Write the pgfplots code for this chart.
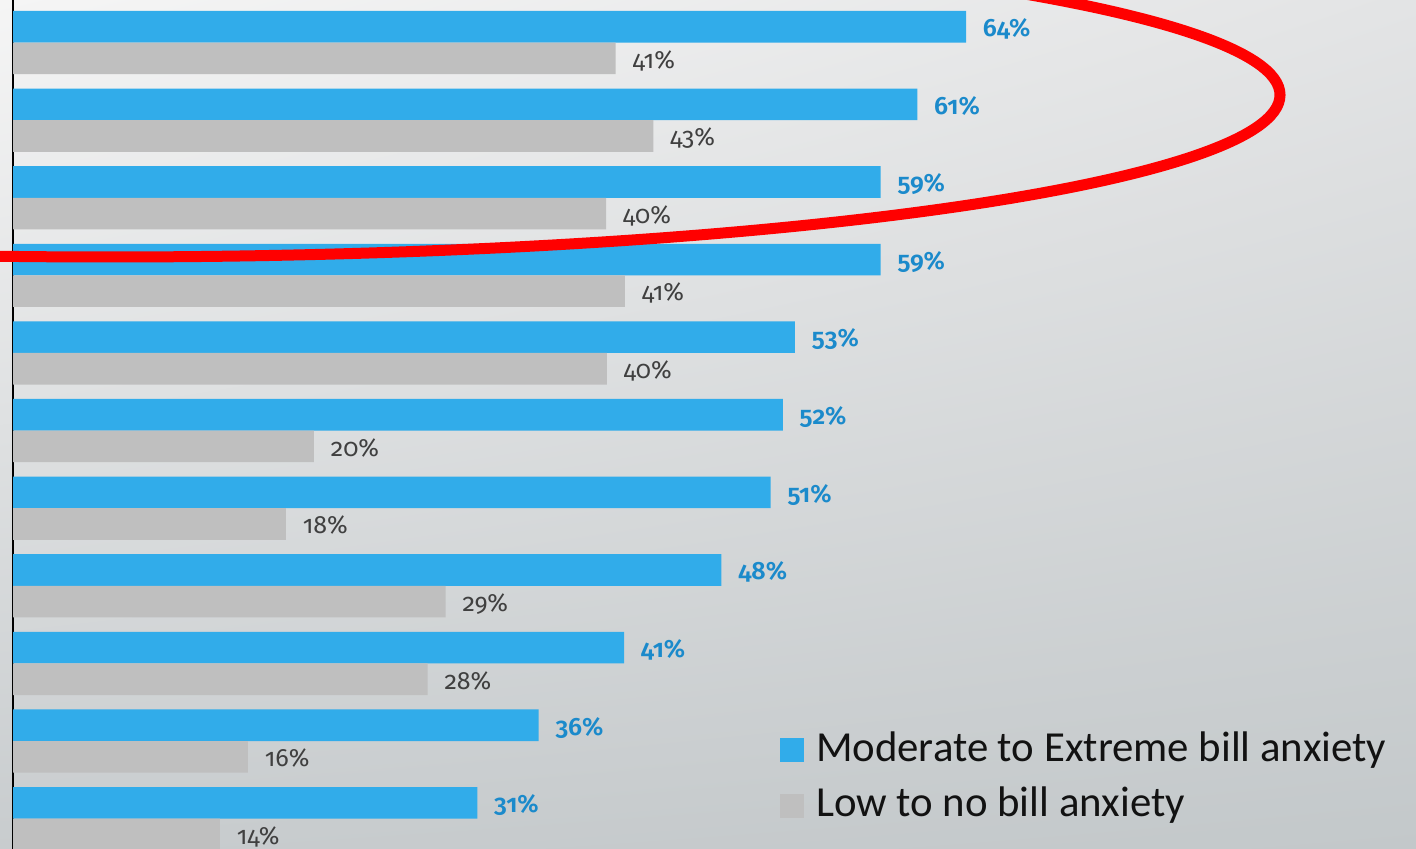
\documentclass[border=0pt]{standalone}
\usepackage{fontspec}
\usepackage{pgfplots}
\usepackage{pgfplotstable}
\pgfplotsset{compat=1.18}
\usetikzlibrary{shadings}
\newfontfamily\legfont{Carlito}
\newfontfamily\labfont{Fira Sans}[Numbers=OldStyle]
\newfontfamily\labfontb{Fira Sans SemiBold}[Numbers=OldStyle]
\definecolor{barblue}{HTML}{31ACEA}
\definecolor{bargray}{HTML}{BFBFBF}
\definecolor{labblue}{HTML}{1B8ACB}
\definecolor{labgray}{HTML}{404040}
\definecolor{bgUL}{HTML}{F5F5F5}
\definecolor{bgUR}{HTML}{E3E4E5}
\definecolor{bgLL}{HTML}{C8CCCE}
\definecolor{bgLR}{HTML}{C3C8CA}

% value (bar length), vertical position (px from top), label
\pgfplotstableread{
x y lab
63.96 26.8 64
60.69 104.4 61
58.23 182.0 59
58.23 259.6 59
52.48 337.2 53
51.66 414.8 52
50.85 492.4 51
47.54 570.0 48
41.01 647.6 41
35.28 725.2 36
31.16 802.8 31
}\bluedata
\pgfplotstableread{
x y lab
40.45 58.4 41
42.97 136.0 43
39.80 213.6 40
41.07 291.2 41
39.85 368.8 40
20.20 446.4 20
18.32 524.0 18
29.04 601.6 29
27.83 679.2 28
15.77 756.8 16
13.89 834.4 14
}\graydata

\begin{document}
\begin{tikzpicture}
\useasboundingbox (0,0) rectangle (708pt,424.5pt);
\clip (0,0) rectangle (708pt,424.5pt);
\shade[upper left=bgUL, upper right=bgUR, lower left=bgLL, lower right=bgLR] (0,0) rectangle (708pt,424.5pt);
\begin{axis}[
  at={(6.5pt,0pt)}, anchor=south west,
  scale only axis, width=701.5pt, height=424.5pt,
  xmin=0, xmax=94.16, ymin=0, ymax=849, y dir=reverse,
  axis x line=none, axis y line*=left,
  y axis line style={black, line width=1pt},
  xtick=\empty, ytick=\empty,
  clip=false,
  xbar, bar width=31.6, bar shift=0pt,
  point meta=explicit symbolic,
  nodes near coords={\pgfplotspointmeta\%},
  nodes near coords style={anchor=base west, inner sep=0pt, xshift=8.25pt, yshift=-4.9pt},
  legend image code/.code={\fill[#1] (0pt,-7.4pt) rectangle (12pt,4.6pt);},
  legend cell align=left,
  legend style={at={(0.5467,0.1448)}, anchor=north west, draw=none, fill=none,
    inner sep=0pt, outer sep=0pt, row sep=6.2pt,
    nodes={inner sep=0pt, text height=17.6pt, text depth=4pt},
    font=\legfont\fontsize{21.4}{26}\selectfont, text=black!93,
    /tikz/every even column/.append style={column sep=0pt},
    /tikz/every odd column/.append style={column sep=6pt}},
]
\addplot[fill=barblue, draw=none,
  nodes near coords style={text=labblue, font=\labfontb\fontsize{12.5}{14}\selectfont}]
  table[x=x, y=y, meta=lab] {\bluedata};
\addplot[fill=bargray, draw=none,
  nodes near coords style={text=labgray, font=\labfont\fontsize{12.5}{14}\selectfont}]
  table[x=x, y=y, meta=lab] {\graydata};
\legend{Moderate to Extreme bill anxiety, Low to no bill anxiety}
\end{axis}
\draw[red, line width=5.5pt] (55pt,377pt) ellipse [x radius=585pt, y radius=81pt];
\end{tikzpicture}
\end{document}
